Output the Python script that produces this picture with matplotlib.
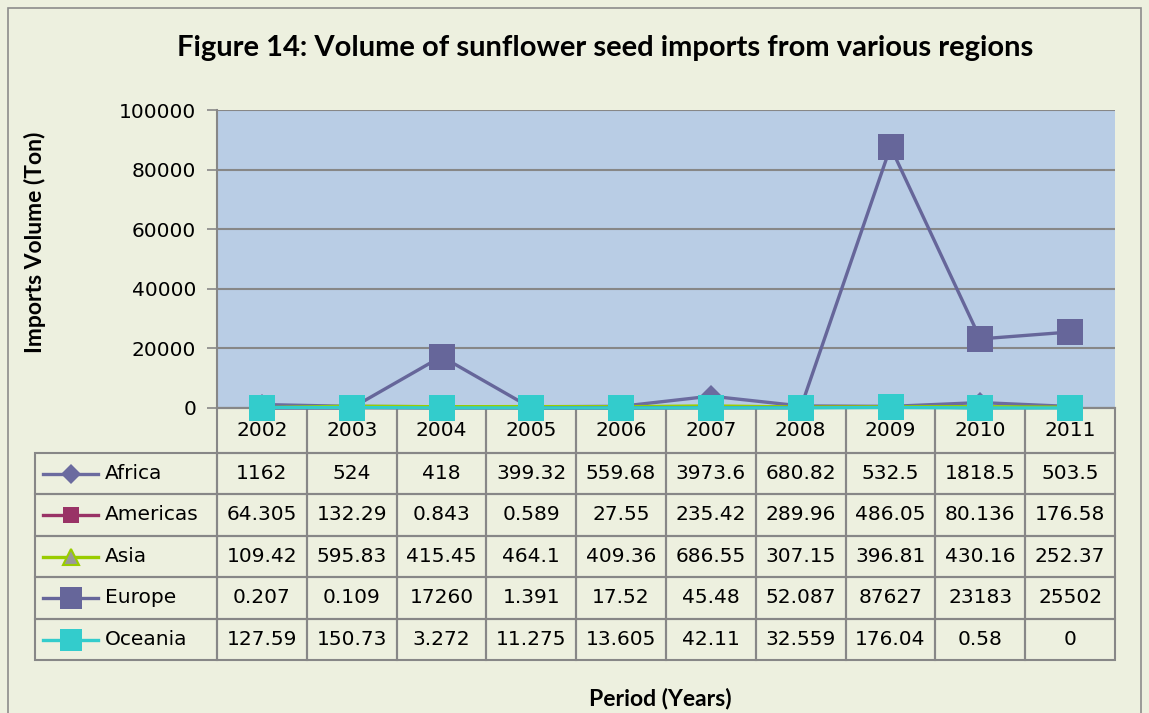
import matplotlib.pyplot as plt
from matplotlib.table import Table
from matplotlib.patches import Rectangle
from matplotlib.lines import Line2D

plt.rcParams['font.family'] = ['DejaVu Sans']
BOLD = ['Lato', 'DejaVu Sans']

years = ['2002', '2003', '2004', '2005', '2006', '2007', '2008', '2009', '2010', '2011']
regions = ['Africa', 'Americas', 'Asia', 'Europe', 'Oceania']
africa = [1162, 524, 418, 399.32, 559.68, 3973.6, 680.82, 532.5, 1818.5, 503.5]
americas = [64.305, 132.29, 0.843, 0.589, 27.55, 235.42, 289.96, 486.05, 80.136, 176.58]
asia = [109.42, 595.83, 415.45, 464.1, 409.36, 686.55, 307.15, 396.81, 430.16, 252.37]
europe = [0.207, 0.109, 17260, 1.391, 17.52, 45.48, 52.087, 87627, 23183, 25502]
oceania = [127.59, 150.73, 3.272, 11.275, 13.605, 42.11, 32.559, 176.04, 0.58, 0]
yticks = [0, 20000, 40000, 60000, 80000, 100000]

series = [africa, americas, asia, europe, oceania]
# colour, marker, marker face, marker size in chart, marker size in legend
styles = [
    ('#6B6B9F', 'D', '#6B6B9F', 11, 10),
    ('#993366', 's', '#993366', 12, 11),
    ('#99CC00', '^', '#999999', 12, 11),
    ('#66669A', 's', '#66669A', 19, 16),
    ('#33CCCC', 's', '#33CCCC', 19, 16),
]

bg = '#EDF0DF'
grid = '#878787'
fs = 14.5
fig = plt.figure(figsize=(11.49, 7.13), dpi=100, facecolor=bg)
fig.add_artist(Rectangle((0.007, -0.01), 0.986, 0.999, transform=fig.transFigure,
                         fill=False, edgecolor='#8C8C8C', lw=1.2))

ax = fig.add_axes([0.1889, 0.4278, 0.7815, 0.4179])
ax.set_facecolor('#B9CDE5')
x = list(range(len(years)))
for vals, (c, m, mf, ms, _) in zip(series, styles):
    ax.plot(x, vals, color=c, lw=2.4, marker=m, markersize=ms,
            markerfacecolor=mf, markeredgecolor=c, markeredgewidth=1.5 if m == '^' else 0,
            clip_on=False, zorder=3)

ax.set_xlim(-0.5, len(years) - 0.5)
ax.set_ylim(0, 100000)
ax.set_yticks(yticks)
ax.set_yticklabels([str(t) for t in yticks], fontsize=fs)
ax.set_xticks([])
ax.tick_params(axis='y', length=7, width=1.2, color=grid, pad=8)
ax.grid(axis='y', color=grid, lw=1.5, zorder=1)
ax.set_axisbelow(True)
for s in ['top', 'right']:
    ax.spines[s].set_visible(False)
for s in ['left', 'bottom']:
    ax.spines[s].set_color(grid)
    ax.spines[s].set_linewidth(1.5)

# data table under the plot
lab_w, col_w, head_h, row_h = 182, 89.8, 45, 41.5
tb = Table(ax, bbox=[-0.2027, -0.8456, 1.2027, 0.8456])
for j, yr in enumerate(years):
    tb.add_cell(0, j + 1, col_w, head_h, text=yr, loc='center', edgecolor=grid, facecolor='none')
for i, (name, vals) in enumerate(zip(regions, series)):
    cell = tb.add_cell(i + 1, 0, lab_w, row_h, text=name, loc='left', edgecolor=grid, facecolor='none')
    cell.PAD = 0.385
    for j, v in enumerate(vals):
        tb.add_cell(i + 1, j + 1, col_w, row_h, text=f'{v:g}', loc='center', edgecolor=grid, facecolor='none')
tb.auto_set_font_size(False)
tb.set_fontsize(fs)
for cell in tb.get_celld().values():
    cell.set_linewidth(1.5)
ax.add_table(tb)

# legend keys inside the row label cells
key_x0, key_x1, key_xm = (43 - 217) / 898, (98 - 217) / 898, (71 - 217) / 898
for i, (c, m, mf, _, lms) in enumerate(styles):
    yc = (408 - (453 + row_h * (i + 0.5))) / 298
    ax.add_line(Line2D([key_x0, key_x1], [yc, yc], transform=ax.transAxes, color=c, lw=2.4, clip_on=False))
    ax.add_line(Line2D([key_xm], [yc], transform=ax.transAxes, marker=m, markersize=lms,
                       markerfacecolor=mf, markeredgecolor=c, markeredgewidth=1.5 if m == '^' else 0,
                       clip_on=False))

fig.text(0.5265, 0.933, 'Figure 14: Volume of sunflower seed imports from various regions',
         ha='center', va='center', fontsize=21, fontweight='bold', family=BOLD)
fig.text(0.0305, 0.6606, 'Imports Volume (Ton)', rotation=90, ha='center', va='center',
         fontsize=16.5, fontweight='bold', family=BOLD)
fig.text(0.5744, 0.021, 'Period (Years)', ha='center', va='center', fontsize=16.5,
         fontweight='bold', family=BOLD)

fig.savefig('out.png', dpi=100, facecolor=bg)
